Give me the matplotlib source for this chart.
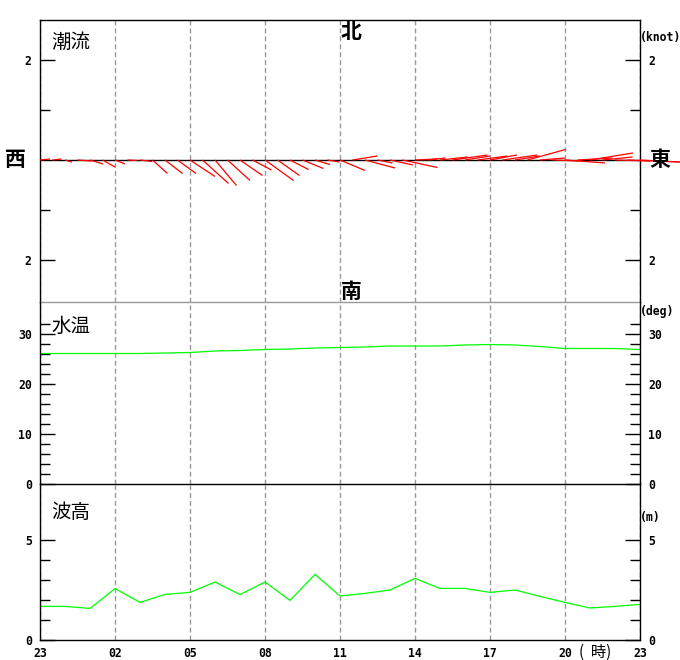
import numpy as np
import matplotlib
matplotlib.use('Agg')
import matplotlib.pyplot as plt
from matplotlib.collections import LineCollection
from matplotlib.ticker import FixedLocator

# ---------------- data ----------------
hour_ticks = [0, 3, 6, 9, 12, 15, 18, 21, 24]
hour_labels = ['23', '02', '05', '08', '11', '14', '17', '20', '23']

hours = np.arange(25)
water_temp = [26.1, 26.1, 26.1, 26.1, 26.1, 26.2, 26.3, 26.6, 26.7, 26.9,
              27.0, 27.2, 27.3, 27.4, 27.6, 27.6, 27.6, 27.8, 27.9, 27.8,
              27.5, 27.1, 27.1, 27.1, 26.9]
wave_height = [1.68, 1.68, 1.58, 2.57, 1.88, 2.28, 2.38, 2.90, 2.27, 2.90,
               1.98, 3.28, 2.20, 2.33, 2.50, 3.08, 2.58, 2.58, 2.38, 2.50,
               2.18, 1.88, 1.60, 1.68, 1.78]

cur_time = np.arange(49) * 0.5
cur_east = [0.20, 0.18, 0.14, 0.28, 0.26, 0.25, 0.20, 0.20, 0.24, 0.30,
            0.35, 0.37, 0.50, 0.52, 0.43, 0.45, 0.45, 0.38, 0.57, 0.44,
            0.37, 0.42, 0.30, 0.24, 0.50, 0.50, 0.60, 0.30, 0.46, 0.70,
            0.44, 0.36, 0.56, 0.70, 0.50, 0.60, 0.54, 0.70, 0.50, 0.76,
            0.50, 0.60, 0.80, 0.70, 0.86, 0.60, 0.70, 1.04, 0.80]
cur_north = [0.02, 0.02, -0.04, -0.02, -0.08, -0.14, -0.08, -0.01, -0.03, -0.27,
             -0.27, -0.27, -0.33, -0.47, -0.51, -0.41, -0.31, -0.20, -0.41, -0.31,
             -0.19, -0.17, -0.09, -0.04, -0.21, 0.08, -0.16, -0.06, -0.10, -0.15,
             0.02, 0.04, 0.06, 0.10, 0.08, 0.08, 0.10, 0.10, 0.08, 0.21,
             0.04, -0.02, -0.06, 0.04, 0.14, 0.06, -0.02, -0.04, -0.04]

# ---------------- layout ----------------
W, H = 680, 660
fig = plt.figure(figsize=(W / 100, H / 100), dpi=100)

X0, X1 = 40, 640
Y_TOP, Y_CUR, Y_TMP, Y_BOT = 20, 302, 484, 640

def ax_at(ytop, ybot):
    return fig.add_axes([X0 / W, 1 - ybot / H, (X1 - X0) / W, (ybot - ytop) / H])

ax_cur = ax_at(Y_TOP, Y_CUR)
ax_tmp = ax_at(Y_CUR, Y_TMP)
ax_wav = ax_at(Y_TMP, Y_BOT)

num_font = dict(family='DejaVu Sans Mono', weight='bold', size=8.3)
cjk = ['Noto Sans CJK JP', 'DejaVu Sans']
MAJ, MIN = 10.8, 7.2

cur_lim = (-2.84, 2.8)
tmp_lim = (0, 36.4)
wav_lim = (0, 7.8)

for ax in (ax_cur, ax_tmp, ax_wav):
    ax.set_xlim(0, 24)
    ax.set_xticks(hour_ticks)
    ax.set_axisbelow(True)
    ax.grid(axis='x', color='#999999', linestyle=(0, (3.5, 2.2)), linewidth=1.0)
    ax.grid(axis='y', visible=False)
    for s in ax.spines.values():
        s.set_color('black')
        s.set_linewidth(1.0)
    ax.tick_params(axis='y', which='both', direction='in', left=True, right=True,
                   labelleft=True, labelright=True, width=1.0, color='black')
    ax.tick_params(axis='y', which='major', length=MAJ, pad=6)
    ax.tick_params(axis='y', which='minor', length=MIN)
    ax.tick_params(axis='x', length=0)
    ax.set_facecolor('none')

# panel separators
ax_cur.spines['bottom'].set_color('#999999')
ax_tmp.spines['top'].set_visible(False)
ax_tmp.spines['bottom'].set_visible(False)

# ----- current panel -----
ax_cur.set_ylim(*cur_lim)
ax_cur.set_yticks([-2, 2])
ax_cur.set_yticklabels(['2', '2'])
ax_cur.yaxis.set_minor_locator(FixedLocator([-1, 1]))
ax_cur.set_xticklabels([])
ax_cur.axhline(0, color='black', linewidth=1.0, zorder=2)
# convert knots to x-hours so sticks are drawn isotropically (same px per knot)
px_per_knot = (Y_CUR - Y_TOP) / (cur_lim[1] - cur_lim[0])
px_per_hour = (X1 - X0) / 24.0
r = px_per_knot / px_per_hour
segs = [[(t, 0.0), (t + u * r, v)] for t, u, v in zip(cur_time, cur_east, cur_north)]
lc = LineCollection(segs, colors='#ff0000', linewidths=0.9, zorder=3, clip_on=False)
ax_cur.add_collection(lc)

# ----- temperature panel -----
ax_tmp.set_ylim(*tmp_lim)
ax_tmp.set_yticks([0, 10, 20, 30])
ax_tmp.yaxis.set_minor_locator(FixedLocator(np.arange(2, 34, 2)))
ax_tmp.set_xticklabels([])
ax_tmp.plot(hours, water_temp, color='#00ff00', linewidth=0.9)

# ----- wave panel -----
ax_wav.set_ylim(*wav_lim)
ax_wav.set_yticks([0, 5])
ax_wav.yaxis.set_minor_locator(FixedLocator([1, 2, 3, 4]))
ax_wav.set_xticklabels(hour_labels)
ax_wav.tick_params(axis='x', pad=5)
ax_wav.plot(hours, wave_height, color='#00ff00', linewidth=0.9)

for ax in (ax_cur, ax_tmp, ax_wav):
    for lab in ax.get_yticklabels() + ax.get_xticklabels():
        lab.set_fontfamily(num_font['family'])
        lab.set_fontweight(num_font['weight'])
        lab.set_fontsize(num_font['size'])

# ---------------- texts ----------------
def ftext(px, py, s, **kw):
    fig.text(px / W, 1 - py / H, s, **kw)

ftext(51, 42, '潮流', family=cjk, fontsize=14, ha='left', va='center', color='black')
ftext(51, 326, '水温', family=cjk, fontsize=14, ha='left', va='center', color='black')
ftext(51, 513, '波高', family=cjk, fontsize=14, ha='left', va='center', color='black')

ftext(351, 31, '北', family=cjk, fontsize=15, ha='center', va='center', weight='bold')
ftext(351, 291, '南', family=cjk, fontsize=15, ha='center', va='center', weight='bold')
ftext(15, 160, '西', family=cjk, fontsize=15, ha='center', va='center', weight='bold')
ftext(660, 160, '東', family=cjk, fontsize=15, ha='center', va='center', weight='bold')

ftext(640, 37, '(knot)', ha='left', va='center', **num_font)
ftext(640, 311, '(deg)', ha='left', va='center', **num_font)
ftext(640, 517, '(m)', ha='left', va='center', **num_font)

ftext(595, 652, '(  時)', family=cjk, fontsize=11, ha='center', va='center')

fig.savefig('out.png', dpi=100)
